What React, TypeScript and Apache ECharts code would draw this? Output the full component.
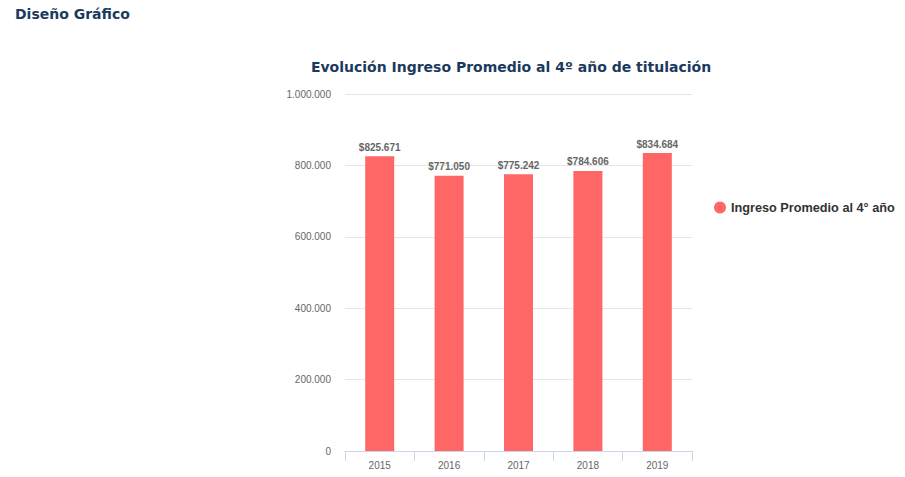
import React, { useEffect, useRef } from "react";
import * as echarts from "echarts";

const categories = ["2015", "2016", "2017", "2018", "2019"];
const values = [825671, 771050, 775242, 784606, 834684];
const seriesName = "Ingreso Promedio al 4° año";
const pageTitle = "Diseño Gráfico";
const chartTitle = "Evolución Ingreso Promedio al 4º año de titulación";

const fmt = (v: number) => String(Math.round(v)).replace(/\B(?=(\d{3})+(?!\d))/g, ".");

export default function App() {
  const ref = useRef<HTMLDivElement>(null);
  useEffect(() => {
    const chart = echarts.init(ref.current!, null, { renderer: "svg" });
    chart.setOption({
      animation: false,
      backgroundColor: "#ffffff",
      title: [
        {
          text: pageTitle,
          left: 15,
          top: 7,
          padding: 0,
          textStyle: { fontFamily: "DejaVu Sans", fontWeight: "bold", fontSize: 14, color: "#1b3a5e" },
        },
        {
          text: chartTitle,
          left: 511,
          textAlign: "center",
          top: 60,
          padding: 0,
          textStyle: { fontFamily: "DejaVu Sans", fontWeight: "bold", fontSize: 14, color: "#1b3a5e" },
        },
      ],
      legend: {
        orient: "vertical",
        left: 714,
        top: 201,
        padding: 0,
        icon: "circle",
        itemWidth: 12,
        itemHeight: 12,
        itemGap: 6,
        textStyle: { fontFamily: "Liberation Sans", fontWeight: "bold", fontSize: 12.7, color: "#333333" },
        data: [seriesName],
      },
      grid: { left: 345, right: 213, top: 94, bottom: 26, containLabel: false },
      xAxis: {
        type: "category",
        data: categories,
        axisLine: { lineStyle: { color: "#ccd6eb" } },
        axisTick: { show: true, length: 10, lineStyle: { color: "#ccd6eb" } },
        axisLabel: { fontFamily: "Liberation Sans", fontSize: 10, color: "#666666", margin: 9 },
      },
      yAxis: {
        type: "value",
        min: 0,
        max: 1000000,
        interval: 200000,
        axisLine: { show: false },
        axisTick: { show: false },
        splitLine: { lineStyle: { color: "#e6e6e6" } },
        axisLabel: {
          fontFamily: "Liberation Sans",
          fontSize: 10,
          color: "#666666",
          margin: 14,
          formatter: (v: number) => fmt(v),
        },
      },
      series: [
        {
          name: seriesName,
          type: "bar",
          data: values,
          barWidth: 29,
          itemStyle: { color: "#ff6666" },
          label: {
            show: true,
            position: "top",
            distance: 4,
            fontFamily: "Liberation Sans",
            fontWeight: "bold",
            fontSize: 10,
            color: "#666666",
            formatter: (p: any) => "$" + fmt(p.value),
          },
        },
      ],
    });
    return () => chart.dispose();
  }, []);
  return (
    <div
      ref={ref}
      style={{ position: "fixed", left: 0, top: 0, width: 905, height: 477 }}
    />
  );
}
